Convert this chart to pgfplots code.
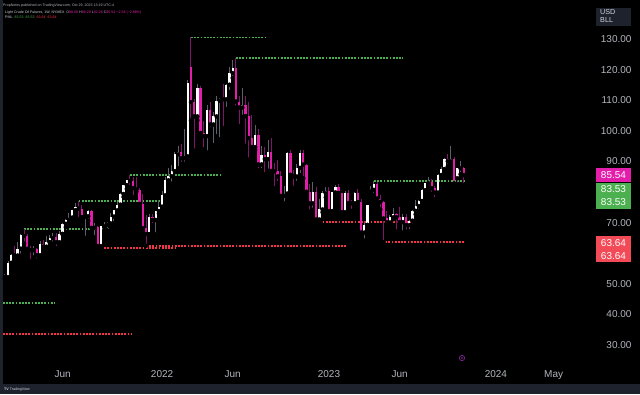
\documentclass[border=0pt]{standalone}
\usepackage{pgfplots}
\pgfplotsset{compat=1.18}
\usepackage{pgfplotstable}
\usepackage{fontspec}
\setmainfont{Liberation Sans}
\definecolor{upbody}{HTML}{FFFFFF}
\definecolor{upwick}{HTML}{5D606B}
\definecolor{dnbody}{HTML}{E21EAA}
\definecolor{dnwick}{HTML}{80166C}
\definecolor{lvlgreen}{HTML}{4CAF50}
\definecolor{lvlred}{HTML}{F23645}
\definecolor{axtext}{HTML}{B2B5BE}
\definecolor{hdrtext}{HTML}{D1D4DC}
\definecolor{footer}{HTML}{1E222D}
\definecolor{evt}{HTML}{9C27B0}

\pgfplotstableread{
i O H L C
-1 52.27 53.28 51.59 52.20
0 52.20 57.29 51.55 56.85
1 56.85 59.82 56.75 59.47
2 59.50 62.26 58.20 59.24
3 59.24 63.81 58.84 61.50
4 61.50 66.40 59.21 66.09
5 66.09 67.98 63.13 65.61
6 65.61 66.40 60.24 61.42
7 61.42 62.30 57.32 60.97
8 60.97 62.27 58.59 61.45
9 61.45 61.54 57.63 59.32
10 59.32 63.93 59.03 63.13
11 63.13 64.42 60.83 62.14
12 62.14 65.47 61.56 63.58
13 63.58 66.07 63.48 64.90
14 64.90 66.66 63.12 65.37
15 65.37 66.48 61.56 63.58
16 63.58 67.14 62.72 66.32
17 66.32 69.76 66.19 69.62
18 69.62 71.24 68.48 70.91
19 70.91 72.99 70.04 71.64
20 71.64 74.25 71.20 74.05
21 74.05 76.40 72.79 75.16
22 75.16 76.98 71.08 74.56
23 74.56 75.86 71.10 71.81
24 71.81 72.27 65.01 72.07
25 72.07 74.13 70.55 73.95
26 73.95 74.05 67.15 68.28
27 68.28 70.00 65.15 68.44
28 68.44 68.73 62.07 62.32
29 62.32 69.03 61.74 68.74
30 68.74 70.05 67.58 69.29
31 69.29 70.08 67.43 69.72
32 69.72 73.13 69.55 71.97
33 71.97 74.18 69.82 73.98
34 73.98 76.67 73.05 75.88
35 75.88 79.78 75.01 79.35
36 79.35 82.44 78.40 82.28
37 82.28 84.00 81.00 83.76
38 83.76 85.41 81.65 83.57
39 83.57 84.88 78.25 81.27
40 81.27 84.97 80.10 80.79
41 80.79 81.40 75.40 76.10
42 76.10 79.20 67.40 68.15
43 68.15 72.46 62.43 66.26
44 66.26 72.80 66.10 71.67
45 71.67 72.89 69.15 70.86
46 70.86 73.87 66.12 73.79
47 73.79 77.34 73.00 75.21
48 75.21 80.24 74.27 78.90
49 78.90 84.78 78.48 83.82
50 83.82 87.91 83.17 85.14
51 85.14 88.84 82.73 86.82
52 86.82 93.17 86.55 92.31
53 92.31 94.94 87.74 93.10
54 93.10 95.82 89.10 91.07
55 91.07 100.54 89.21 91.59
56 91.59 116.57 91.53 115.68
57 121.00 130.50 103.46 109.33
58 109.33 110.50 93.53 104.70
59 104.70 115.40 103.46 113.90
60 113.90 114.78 98.44 99.27
61 99.27 103.19 93.93 98.26
62 98.26 108.44 92.93 106.95
63 106.95 109.39 100.50 102.07
64 102.07 106.27 95.28 104.69
65 104.69 111.37 98.20 109.77
66 109.77 110.57 97.18 110.49
67 110.49 115.21 100.85 110.28
68 110.28 115.18 107.10 115.07
69 115.07 120.99 112.63 118.87
70 118.87 123.18 117.25 120.67
71 120.67 123.68 107.59 109.56
72 109.56 111.50 101.53 107.62
73 107.62 114.05 104.56 108.43
74 108.43 111.45 95.10 104.79
75 104.79 109.52 90.56 97.59
76 97.59 105.21 93.93 94.70
77 94.70 101.88 93.73 98.62
78 98.62 100.57 87.01 89.01
79 89.01 95.05 87.05 92.09
80 92.09 94.67 85.73 90.77
81 90.77 97.00 86.96 93.06
82 93.06 97.65 85.79 86.87
83 86.87 89.57 81.20 86.79
84 86.79 90.39 82.93 85.11
85 85.11 86.98 78.20 78.74
86 78.74 82.07 76.25 79.49
87 79.49 92.96 79.30 92.64
88 92.64 93.64 84.83 85.61
89 85.61 87.03 81.30 85.05
90 85.05 89.06 82.97 87.90
91 87.90 93.74 85.50 92.61
92 92.61 93.74 84.51 88.96
93 88.96 89.24 79.40 80.08
94 80.08 82.50 73.60 76.28
95 76.28 83.34 74.21 79.98
96 79.98 81.73 70.08 71.02
97 71.02 77.65 70.26 74.29
98 74.29 80.30 73.38 79.56
99 79.56 81.50 78.20 80.26
100 80.26 81.50 72.46 73.77
101 73.77 80.00 73.00 79.86
102 79.86 82.38 78.60 81.64
103 81.64 82.66 78.90 79.68
104 79.68 79.68 72.50 73.39
105 73.39 80.20 72.25 79.72
106 79.72 80.62 75.70 76.34
107 76.34 77.50 73.80 76.32
108 76.32 80.00 75.14 79.68
109 79.68 81.04 75.70 76.68
110 76.68 77.55 65.65 66.74
111 66.74 70.40 64.12 69.26
112 69.26 75.72 69.00 75.67
113 80.10 81.81 79.00 80.70
114 80.70 83.53 79.07 82.52
115 82.52 83.30 77.09 77.87
116 77.87 79.14 74.27 76.78
117 76.78 76.92 63.64 71.34
118 71.34 73.85 69.50 70.04
119 70.04 72.36 69.39 71.69
120 71.69 74.73 71.12 72.67
121 72.67 73.00 67.03 71.74
122 71.74 75.06 69.37 70.17
123 70.17 72.73 66.80 71.78
124 71.78 72.72 67.05 69.16
125 69.16 70.76 67.12 70.64
126 70.64 74.00 69.05 73.86
127 73.86 77.28 72.72 75.42
128 75.42 77.53 73.89 77.07
129 77.07 80.97 76.81 80.58
130 80.58 83.00 79.33 82.82
131 82.82 84.89 81.55 83.19
132 83.19 84.24 79.39 81.25
133 81.25 81.93 77.62 79.83
134 79.83 85.89 79.42 85.55
135 85.55 88.08 85.05 87.51
136 87.51 91.15 86.38 90.77
137 90.77 92.43 88.36 90.03
138 90.03 95.03 88.87 90.79
139 90.79 91.47 81.50 82.79
140 84.50 87.80 82.50 87.69
141 87.69 90.07 85.80 88.08
142 88.00 88.29 82.28 85.54
}\ohlc

\begin{document}
\begin{tikzpicture}[x=1pt,y=1pt]
\path[use as bounding box] (0,0) rectangle (640,394);
\fill[black] (0,0) rectangle (640,394);
\fill[footer] (0,0) rectangle (640,10);
\fill[footer] (0,10) rectangle (2.5,394);
\begin{axis}[
  at={(3pt,24pt)}, anchor=south west, scale only axis,
  width=594pt, height=343pt,
  xmin=-1.56, xmax=183.5, ymin=21.83, ymax=133.92,
  axis line style={draw=none},
  major tick length=0pt, minor tick num=0,
  xtick={17,48,70,100,122,152,170},
  xticklabels={Jun,2022,Jun,2023,Jun,2024,May},
  xticklabel style={font=\fontsize{10}{12}\selectfont, text=axtext, anchor=base, yshift=-7pt},
  ytick={30,40,50,70,90,100,110,120,130},
  yticklabel pos=right,
  yticklabel={\pgfmathprintnumber[fixed,fixed zerofill,precision=2]{\tick}},
  yticklabel style={font=\fontsize{10}{12}\selectfont, text=axtext, anchor=east, xshift=38pt},
  /pgf/number format/assume math mode=true,
  clip=true,
]
% green pivot-high levels
\pgfplotsset{lvl/.style={line width=1.9pt, dash pattern=on 1.8pt off 1.4pt}}
\addplot[lvl, lvlgreen] coordinates {(57,130.50) (80.4,130.50)};
\addplot[lvl, lvlgreen] coordinates {(71,123.68) (123,123.68)};
\addplot[lvl, lvlgreen] coordinates {(38,85.41) (66.7,85.41)};
\addplot[lvl, lvlgreen] coordinates {(22,76.98) (47.5,76.98)};
\addplot[lvl, lvlgreen] coordinates {(5,67.98) (31.5,67.98)};
\addplot[lvl, lvlgreen] coordinates {(-1.6,43.78) (14.6,43.78)};
\addplot[lvl, lvlgreen] coordinates {(114,83.53) (142.3,83.53)};
% red pivot-low levels
\addplot[lvl, lvlred] coordinates {(-1.6,33.64) (38.3,33.64)};
\addplot[lvl, lvlred] coordinates {(29,61.74) (52.6,61.74)};
\addplot[lvl, lvlred] coordinates {(43,62.43) (105.3,62.43)};
\addplot[lvl, lvlred] coordinates {(96,70.08) (126,70.08)};
\addplot[lvl, lvlred] coordinates {(116.5,63.64) (142.3,63.64)};
% up candles
\addplot[only marks, mark=none, restrict expr to domain={\thisrow{C}-\thisrow{O}}{0:1000},
  error bars/.cd, y dir=plus, y explicit, error mark=none,
  error bar style={draw=upwick, line width=1pt}]
  table[x=i, y=L, y error plus expr=\thisrow{H}-\thisrow{L}] {\ohlc};
\addplot[only marks, mark=none, restrict expr to domain={\thisrow{C}-\thisrow{O}}{0:1000},
  error bars/.cd, y dir=plus, y explicit, error mark=none,
  error bar style={draw=upbody, line width=2.3pt}]
  table[x=i, y expr={min(\thisrow{O},\thisrow{C})}, y error plus expr={max(abs(\thisrow{C}-\thisrow{O}),0.3)}] {\ohlc};
% down candles
\addplot[only marks, mark=none, restrict expr to domain={\thisrow{C}-\thisrow{O}}{-1000:-0.0001},
  error bars/.cd, y dir=plus, y explicit, error mark=none,
  error bar style={draw=dnwick, line width=1pt}]
  table[x=i, y=L, y error plus expr=\thisrow{H}-\thisrow{L}] {\ohlc};
\addplot[only marks, mark=none, restrict expr to domain={\thisrow{C}-\thisrow{O}}{-1000:-0.0001},
  error bars/.cd, y dir=plus, y explicit, error mark=none,
  error bar style={draw=dnbody, line width=2.3pt}]
  table[x=i, y expr={min(\thisrow{O},\thisrow{C})}, y error plus expr={max(abs(\thisrow{C}-\thisrow{O}),0.3)}] {\ohlc};
\end{axis}
% price tags
\fill[dnbody] (596,212) rectangle (631,226);
\node[text=white, font=\fontsize{10}{12}\selectfont] at (613.5,219) {85.54};
\fill[lvlgreen] (596,185) rectangle (631,211);
\node[text=white, font=\fontsize{10}{12}\selectfont] at (613.5,205) {83.53};
\node[text=white, font=\fontsize{10}{12}\selectfont] at (613.5,192) {83.53};
\fill[lvlred!90!white] (596,132) rectangle (631,158);
\node[text=white, font=\fontsize{10}{12}\selectfont] at (613.5,151) {63.64};
\node[text=white, font=\fontsize{10}{12}\selectfont] at (613.5,138) {63.64};
% currency box
\fill[footer] (596,368) rectangle (631,386);
\node[text=hdrtext, font=\fontsize{7.2}{8}\selectfont, align=left, anchor=north west, inner sep=0pt] at (600,385) {USD\\BLL};
% header
\node[anchor=base west, inner sep=0pt, text=axtext, font=\fontsize{3.6}{4}\selectfont] at (3,387.5) {PropNotes published on TradingView.com, Oct 29, 2023 13:19 UTC-4};
\node[anchor=base west, inner sep=0pt, text=hdrtext, font=\fontsize{3.6}{4}\selectfont] at (5,380) {Light Crude Oil Futures, 1W, NYMEX\ \ \textcolor{axtext}{O}\textcolor{dnbody}{88.00} \textcolor{axtext}{H}\textcolor{dnbody}{88.29} \textcolor{axtext}{L}\textcolor{dnbody}{82.28} \textcolor{axtext}{C}\textcolor{dnbody}{85.54} \textcolor{dnbody}{−2.54 (−2.88\%)}};
\node[anchor=base west, inner sep=0pt, text=hdrtext, font=\fontsize{3.6}{4}\selectfont] at (5,375.5) {PML\ \ \textcolor{lvlgreen}{83.53}\ \ \textcolor{lvlgreen}{83.53}\ \ \textcolor{lvlred}{63.64}\ \ \textcolor{lvlred}{63.64}};
% footer logo
\node[anchor=base west, inner sep=0pt, text=hdrtext, font=\fontsize{3.6}{4}\selectfont] at (4,3.5) {\textbf{TV} TradingView};
% event marker
\draw[evt, line width=0.6pt] (462,36) circle (2.6pt);
\fill[evt] (462,36) circle (0.9pt);
\end{tikzpicture}
\end{document}
